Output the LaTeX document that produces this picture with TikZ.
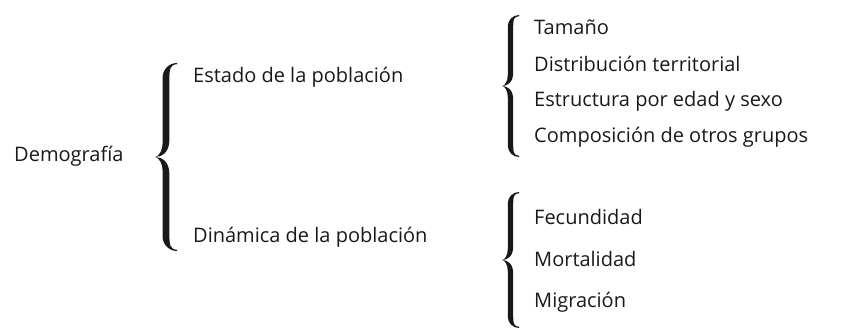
\documentclass[tikz,border=0pt]{standalone}
\usepackage{fontspec}
\setmainfont{Open Sans}
\definecolor{inkcol}{gray}{0.1}
\newcommand{\calbrace}[6]{% #1 xtip, #2 ytop, #3 ytip, #4 ybot, #5 W, #6 half thickness
 \pgfmathsetmacro{\bxr}{#1+#5}
 \pgfmathsetmacro{\bc}{#1+0.5*#5}
 \pgfmathsetmacro{\bt}{#6}
 \pgfmathsetmacro{\bro}{\bxr-\bc+\bt}
 \pgfmathsetmacro{\bol}{\bc-\bt}
 \pgfmathsetmacro{\bil}{\bc+\bt}
 \fill[inkcol] (\bxr,#2) .. controls ({\bxr-0.55*\bro},#2) and (\bol,{#2+0.45*\bro}) .. (\bol,{#2+\bro})
   -- (\bol,{#3-\bro}) .. controls (\bol,{#3-0.4*\bro}) and ({#1+0.3*(\bc-#1)},#3) .. (#1,#3)
   .. controls ({#1+0.3*(\bc-#1)},#3) and (\bol,{#3+0.4*\bro}) .. (\bol,{#3+\bro})
   -- (\bol,{#4-\bro}) .. controls (\bol,{#4-0.45*\bro}) and ({\bxr-0.55*\bro},#4) .. (\bxr,#4)
   -- (\bxr,{#4-1.2}) .. controls ({\bxr-0.5*\bro},{#4-1.5}) and (\bil,{#4-0.5*\bro}) .. (\bil,{#4-\bro})
   -- (\bil,{#3+1.2*\bro}) .. controls (\bil,{#3+0.3*\bro}) and ({#1+0.6*(\bc-#1)},#3) .. (#1,#3)
   .. controls ({#1+0.6*(\bc-#1)},#3) and (\bil,{#3-0.3*\bro}) .. (\bil,{#3-1.2*\bro})
   -- (\bil,{#2+\bro}) .. controls (\bil,{#2+0.5*\bro}) and ({\bxr-0.5*\bro},{#2+1.5}) .. (\bxr,{#2+1.2}) -- cycle;
}
\begin{document}
\begin{tikzpicture}[x=1pt,y=-1pt,
  lbl/.style={anchor=base west,inner sep=0pt,text=inkcol,font=\fontsize{20}{22}\selectfont}]
\useasboundingbox (0,0) rectangle (848,328);
\node[lbl] (dem) at (14,162) {Demografía};
\node[lbl] (est) at (193,83) {Estado de la población};
\node[lbl] (din) at (193,243) {Dinámica de la población};
\node[lbl] (tam) at (534,35) {Tamaño};
\node[lbl] (dis) at (534,72) {Distribución territorial};
\node[lbl] (estr) at (534,107) {Estructura por edad y sexo};
\node[lbl] (comp) at (534,143) {Composición de otros grupos};
\node[lbl] (fec) at (534,225) {Fecundidad};
\node[lbl] (mor) at (534,267) {Mortalidad};
\node[lbl] (mig) at (534,308) {Migración};
\calbrace{155}{63}{157}{251}{22}{3.4}
\calbrace{502}{15}{86}{157}{17}{2.7}
\calbrace{502}{192}{260}{328}{17}{2.7}
\end{tikzpicture}
\end{document}
